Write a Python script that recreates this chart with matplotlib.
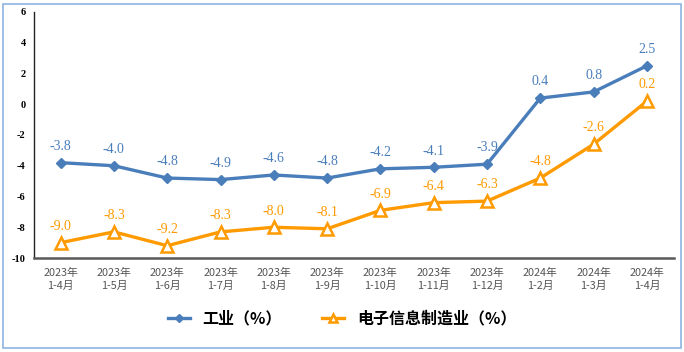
import matplotlib.pyplot as plt
from matplotlib.patches import Rectangle

# data
periods = ["2023年\n1-4月", "2023年\n1-5月", "2023年\n1-6月", "2023年\n1-7月",
           "2023年\n1-8月", "2023年\n1-9月", "2023年\n1-10月", "2023年\n1-11月",
           "2023年\n1-12月", "2024年\n1-2月", "2024年\n1-3月", "2024年\n1-4月"]
industry = [-3.8, -4.0, -4.8, -4.9, -4.6, -4.8, -4.2, -4.1, -3.9, 0.4, 0.8, 2.5]
electronics = [-9.0, -8.3, -9.2, -8.3, -8.0, -8.1, -6.9, -6.4, -6.3, -4.8, -2.6, 0.2]
yticks = [-10, -8, -6, -4, -2, 0, 2, 4, 6]

blue = "#4A7EBB"
orange = "#FF9A00"

plt.rcParams["font.family"] = ["Noto Sans CJK SC", "DejaVu Sans"]

fig = plt.figure(figsize=(6.84, 3.52), dpi=100)
ax = fig.add_axes([0.0497, 0.267, 0.935, 0.699])

# light blue frame around the whole picture
fig.patches.append(Rectangle((0.005, 0.01), 0.99, 0.98, transform=fig.transFigure,
                             fill=False, edgecolor="#8EB4E3", linewidth=1.2))

x = list(range(len(periods)))
ax.plot(x, industry, color=blue, linewidth=2.4, marker="D", markersize=5.5,
        label="工业（%）", zorder=3)
ax.plot(x, electronics, color=orange, linewidth=2.4, marker="^", markersize=8,
        markerfacecolor="white", markeredgecolor=orange, markeredgewidth=1.8,
        label="电子信息制造业（%）", zorder=3)

for i, v in enumerate(industry):
    ax.annotate(f"{v:.1f}", (i, v), xytext=(0, 7), textcoords="offset points",
                ha="center", va="bottom", color=blue, fontsize=10,
                family="Liberation Serif")
for i, v in enumerate(electronics):
    ax.annotate(f"{v:.1f}", (i, v), xytext=(0, 7), textcoords="offset points",
                ha="center", va="bottom", color=orange, fontsize=10,
                family="Liberation Serif")

ax.set_xlim(-0.5, len(periods) - 0.5)
ax.set_ylim(-10, 6)
ax.set_yticks(yticks)
ax.set_yticklabels([str(t) for t in yticks], family="Liberation Serif",
                   fontweight="bold", fontsize=7.5)
ax.set_xticks(x)
ax.set_xticklabels(periods, fontsize=7.8, color="#555555", linespacing=1.4)
ax.tick_params(axis="x", length=0, pad=7)
ax.tick_params(axis="y", length=0, pad=6)

ax.spines["top"].set_visible(False)
ax.spines["right"].set_visible(False)
ax.spines["left"].set_color("#222222")
ax.spines["left"].set_linewidth(1.0)
ax.spines["bottom"].set_color("#595959")
ax.spines["bottom"].set_linewidth(1.8)

fig.legend(loc="center", bbox_to_anchor=(0.5, 0.095), ncol=2, frameon=False,
           handlelength=1.4, columnspacing=2.5, markerscale=0.7,
           prop={"family": ["Noto Sans CJK SC", "DejaVu Sans"], "size": 11.5,
                 "weight": "bold"})

fig.savefig("out.png", dpi=100)
